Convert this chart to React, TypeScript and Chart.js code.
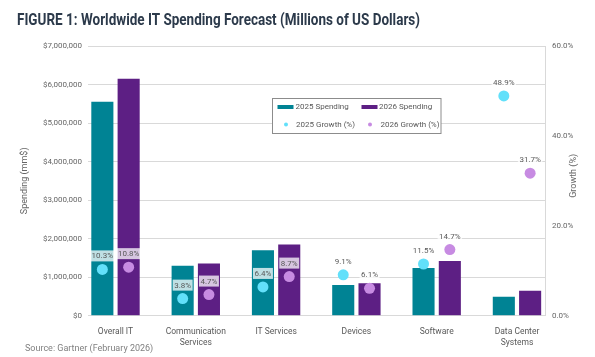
import React, { useEffect, useRef } from 'react';
import { Chart, registerables } from 'chart.js';

Chart.register(...registerables);

// ---------- data ----------
const categories: string[][] = [
  ['Overall IT'],
  ['Communication', 'Services'],
  ['IT Services'],
  ['Devices'],
  ['Software'],
  ['Data Center', 'Systems'],
];
const spending2025 = [5550000, 1296000, 1700000, 795000, 1235000, 490000];
const spending2026 = [6150000, 1357000, 1850000, 843000, 1417000, 645000];
const growth2025 = [10.3, 3.8, 6.4, 9.1, 11.5, 48.9];
const growth2026 = [10.8, 4.7, 8.7, 6.1, 14.7, 31.7];
const seriesLabels = ['2025 Spending', '2026 Spending', '2025 Growth (%)', '2026 Growth (%)'];
const titleText = 'FIGURE 1: Worldwide IT Spending Forecast (Millions of US Dollars)';
const sourceText = 'Source: Gartner (February 2026)';
const leftAxisTitle = 'Spending (mm$)';
const rightAxisTitle = 'Growth (%)';

// ---------- styles ----------
const TEAL = '#008394';
const PURPLE = '#5d1f84';
const CYAN = '#62e0fa';
const LAVENDER = '#c78be2';
const GRID = '#d9d9d9';
const TICK = '#666666';
const FONT = 'Roboto, "Noto Sans", sans-serif';

const overlayPlugin = {
  id: 'overlay',
  afterDatasetsUpdate(chart: any) {
    const pairs = [[2, 0], [3, 1]];
    for (const [pi, bi] of pairs) {
      const pm = chart.getDatasetMeta(pi);
      const bm = chart.getDatasetMeta(bi);
      pm.data.forEach((el: any, i: number) => {
        const b = bm.data[i];
        if (b) el.x = b.x;
      });
    }
  },
  afterDatasetsDraw(chart: any) {
    const ctx = chart.ctx;
    ctx.save();
    ctx.font = `8px ${FONT}`;
    ctx.textAlign = 'center';
    ctx.textBaseline = 'middle';
    [2, 3].forEach((di) => {
      const meta = chart.getDatasetMeta(di);
      const vals = chart.data.datasets[di].data;
      meta.data.forEach((el: any, i: number) => {
        const v = vals[i].y as number;
        const txt = v.toFixed(1) + '%';
        const w = ctx.measureText(txt).width + 3;
        const cy = el.y - 13.5;
        ctx.fillStyle = 'rgba(255,255,255,0.75)';
        ctx.fillRect(el.x - w / 2, cy - 5.5, w, 11);
        ctx.fillStyle = '#595959';
        ctx.fillText(txt, el.x, cy + 0.5);
      });
    });
    ctx.restore();
  },
  afterDraw(chart: any) {
    const ctx = chart.ctx;
    const area = chart.chartArea;
    ctx.save();
    // title (condensed)
    ctx.font = `bold 16px ${FONT}`;
    ctx.fillStyle = '#2c3a4b';
    ctx.textAlign = 'left';
    ctx.textBaseline = 'alphabetic';
    const tw = ctx.measureText(titleText).width;
    const targetW = 403;
    ctx.save();
    ctx.translate(17, 25);
    ctx.scale(targetW / tw, 1);
    ctx.fillText(titleText, 0, 0);
    ctx.restore();

    // source
    ctx.font = `9px ${FONT}`;
    ctx.fillStyle = '#808080';
    ctx.textBaseline = 'middle';
    ctx.fillText(sourceText, 25, 349);

    // axis titles
    const midY = (area.top + area.bottom) / 2;
    ctx.font = `9px ${FONT}`;
    ctx.fillStyle = TICK;
    ctx.textAlign = 'center';
    ctx.save();
    ctx.translate(25, midY);
    ctx.rotate(-Math.PI / 2);
    ctx.fillText(leftAxisTitle, 0, 0);
    ctx.restore();
    ctx.save();
    ctx.translate(574, midY - 5);
    ctx.rotate(-Math.PI / 2);
    ctx.fillText(rightAxisTitle, 0, 0);
    ctx.restore();

    // legend
    const lx = 272.5, ly = 98.5, lw = 168.5, lh = 35;
    ctx.fillStyle = '#ffffff';
    ctx.fillRect(lx, ly, lw, lh);
    ctx.strokeStyle = '#8c8c8c';
    ctx.lineWidth = 1;
    ctx.strokeRect(lx, ly, lw, lh);
    const r1 = ly + 8.5, r2 = ly + 26;
    ctx.font = `8px ${FONT}`;
    ctx.textAlign = 'left';
    ctx.textBaseline = 'middle';
    // row 1
    ctx.fillStyle = TEAL;
    ctx.fillRect(lx + 5, r1 - 2, 16, 4);
    ctx.fillStyle = '#595959';
    ctx.fillText(seriesLabels[0], lx + 23, r1);
    ctx.fillStyle = PURPLE;
    ctx.fillRect(lx + 89, r1 - 2, 16, 4);
    ctx.fillStyle = '#595959';
    ctx.fillText(seriesLabels[1], lx + 106.5, r1);
    // row 2
    ctx.fillStyle = CYAN;
    ctx.beginPath();
    ctx.arc(lx + 13.5, r2, 2, 0, Math.PI * 2);
    ctx.fill();
    ctx.fillStyle = '#595959';
    ctx.fillText(seriesLabels[2], lx + 23.5, r2);
    ctx.fillStyle = LAVENDER;
    ctx.beginPath();
    ctx.arc(lx + 97.5, r2, 2, 0, Math.PI * 2);
    ctx.fill();
    ctx.fillStyle = '#595959';
    ctx.fillText(seriesLabels[3], lx + 108, r2);
    ctx.restore();
  },
};

export default function App() {
  const canvasRef = useRef<HTMLCanvasElement | null>(null);

  useEffect(() => {
    document.body.style.margin = '0';
    const canvas = canvasRef.current;
    if (!canvas) return;
    Chart.defaults.font.family = FONT;

    const chart = new Chart(canvas, {
      type: 'bar',
      data: {
        datasets: [
          {
            type: 'bar',
            label: seriesLabels[0],
            data: spending2025.map((v, i) => ({ x: i, y: v })),
            backgroundColor: TEAL,
            yAxisID: 'y',
            order: 2,
            categoryPercentage: 0.655,
            barPercentage: 0.84,
          } as any,
          {
            type: 'bar',
            label: seriesLabels[1],
            data: spending2026.map((v, i) => ({ x: i, y: v })),
            backgroundColor: PURPLE,
            yAxisID: 'y',
            order: 2,
            categoryPercentage: 0.655,
            barPercentage: 0.84,
          } as any,
          {
            type: 'line',
            label: seriesLabels[2],
            data: growth2025.map((v, i) => ({ x: i, y: v })),
            yAxisID: 'y1',
            showLine: false,
            pointRadius: 5.5,
            pointBackgroundColor: CYAN,
            pointBorderWidth: 0,
            pointBorderColor: CYAN,
            order: 1,
          } as any,
          {
            type: 'line',
            label: seriesLabels[3],
            data: growth2026.map((v, i) => ({ x: i, y: v })),
            yAxisID: 'y1',
            showLine: false,
            pointRadius: 5.5,
            pointBackgroundColor: LAVENDER,
            pointBorderWidth: 0,
            pointBorderColor: LAVENDER,
            order: 1,
          } as any,
        ],
      },
      options: {
        animation: false,
        responsive: false,
        devicePixelRatio: 1,
        layout: { padding: { top: 46, left: 0, right: 0, bottom: 0 } },
        plugins: {
          legend: { display: false },
          tooltip: { enabled: false },
          title: { display: false },
        },
        scales: {
          x: {
            type: 'linear',
            offset: false,
            min: -0.3425,
            max: 5.349,
            afterBuildTicks: (s: any) => {
              s.ticks = categories.map((_, i) => ({ value: i }));
            },
            afterFit: (s: any) => {
              s.height = 41.3;
            },
            ticks: {
              callback: (v: any) => categories[v as number] || '',
              color: '#595959',
              font: { size: 8.5, lineHeight: 1.35 },
              padding: 2,
              maxRotation: 0,
              autoSkip: false,
            },
            grid: { display: false, offset: false },
            border: { display: true, color: GRID },
          },
          y: {
            position: 'left',
            min: 0,
            max: 7000000,
            afterFit: (s: any) => {
              s.width = 88;
            },
            ticks: {
              stepSize: 1000000,
              callback: (v: any) => '$' + Number(v).toLocaleString('en-US'),
              color: TICK,
              font: { size: 8 },
              padding: 6,
            },
            grid: { color: GRID, drawTicks: false },
            border: { display: false },
          },
          y1: {
            position: 'right',
            min: 0,
            max: 60,
            afterFit: (s: any) => {
              s.width = 50;
            },
            ticks: {
              stepSize: 20,
              callback: (v: any) => Number(v).toFixed(1) + '%',
              color: TICK,
              font: { size: 8 },
              padding: 7,
            },
            grid: { drawOnChartArea: false, drawTicks: false },
            border: { display: true, color: GRID },
          },
        },
      } as any,
      plugins: [overlayPlugin],
    });

    return () => chart.destroy();
  }, []);

  return (
    <div style={{ width: 595, height: 357, background: '#ffffff' }}>
      <canvas ref={canvasRef} width={595} height={357} style={{ display: 'block' }} />
    </div>
  );
}
